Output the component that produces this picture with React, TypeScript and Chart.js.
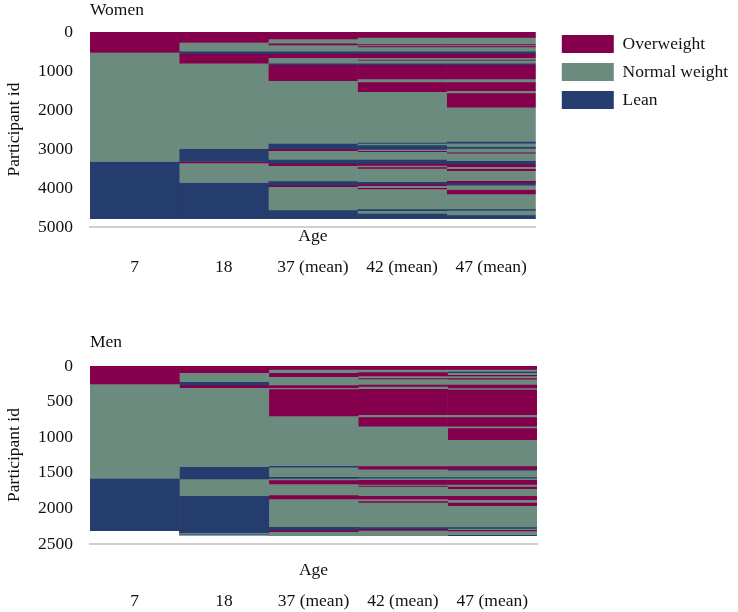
import React, { useEffect, useRef } from 'react';
import { Chart, registerables } from 'chart.js';

Chart.register(...registerables);

// ---------- data ----------
const ageLabels = ['7', '18', '37 (mean)', '42 (mean)', '47 (mean)'];
const classNames = ['Overweight', 'Normal weight', 'Lean'];
const classColors = ['#84004C', '#6B8B7E', '#253C6E'];
const O = 0, N = 1, L = 2;

// each column: runs of participants, [last participant id of run, class]
const women7: [number, number][] = [[525, O], [3320, N], [4790, L]];
const women18: [number, number][] = [[270, O], [495, N], [547, L], [803, O], [2990, N], [3320, L], [3360, O], [3860, N], [4790, L]];
const women37: [number, number][] = [[180, O], [290, N], [333, O], [495, N], [547, L], [658, O], [803, N], [838, L], [1250, O], [2855, N], [3000, L], [3043, O], [3265, N], [3368, L], [3427, O], [3821, N], [3923, L], [3966, O], [4564, N], [4790, L]];
const women42: [number, number][] = [[137, O], [308, N], [333, O], [359, N], [385, O], [495, N], [547, L], [658, O], [701, N], [726, O], [803, N], [838, L], [1205, O], [1282, N], [1530, O], [2829, N], [2855, L], [2897, N], [3009, L], [3043, N], [3068, O], [3265, N], [3368, L], [3419, O], [3462, N], [3496, O], [3838, N], [3897, L], [3940, O], [3991, N], [4026, O], [4538, N], [4581, L], [4650, N], [4790, L]];
const women47: [number, number][] = [[137, O], [308, N], [333, O], [359, N], [385, O], [495, N], [547, L], [658, O], [701, N], [726, O], [803, N], [838, L], [1205, O], [1282, N], [1505, O], [1565, N], [1925, O], [2805, N], [2850, L], [2935, N], [2985, L], [3080, N], [3110, O], [3300, N], [3385, L], [3455, O], [3505, N], [3555, O], [3810, N], [3870, O], [3930, L], [4040, N], [4150, O], [4540, N], [4575, L], [4690, N], [4790, L]];

const men7: [number, number][] = [[253, O], [1578, N], [2313, L]];
const men18: [number, number][] = [[94, O], [220, N], [267, L], [305, O], [1414, N], [1587, L], [1822, N], [2341, L], [2364, N], [2378, L]];
const men37: [number, number][] = [[47, O], [94, N], [150, O], [267, N], [304, O], [323, N], [700, O], [1400, N], [1423, L], [1555, N], [1578, L], [1601, N], [1657, O], [1811, N], [1867, O], [2256, N], [2303, L], [2327, O], [2383, N]];
const men42: [number, number][] = [[47, O], [84, N], [140, O], [169, N], [183, O], [258, N], [286, O], [319, N], [684, O], [716, N], [847, O], [1404, N], [1451, O], [1559, N], [1577, L], [1596, N], [1662, O], [1676, N], [1690, O], [1822, N], [1868, O], [1896, N], [1915, O], [2261, N], [2289, L], [2308, O], [2383, N]];
const men47: [number, number][] = [[47, O], [75, N], [94, L], [122, N], [140, O], [169, N], [187, O], [258, N], [309, O], [328, N], [684, O], [716, N], [847, O], [871, N], [1035, O], [1404, N], [1451, O], [1465, L], [1559, N], [1577, L], [1596, N], [1662, O], [1690, N], [1723, O], [1822, N], [1878, O], [1915, N], [1962, O], [2261, N], [2280, L], [2299, N], [2318, O], [2369, N], [2383, L]];

const womenColumns = [women7, women18, women37, women42, women47];
const menColumns = [men7, men18, men37, men42, men47];

const womenYTicks = [0, 1000, 2000, 3000, 4000, 5000];
const menYTicks = [0, 500, 1000, 1500, 2000, 2500];

// ---------- chart building ----------
const FONT_FAMILY = '"Liberation Serif", "Times New Roman", serif';
const FONT_SIZE = 17.5;
const TEXT_COLOR = '#111111';
const LEGEND_GAP = 16;

function buildDatasets(columns: [number, number][][]) {
  const maxSeg = Math.max(...columns.map((c) => c.length));
  const datasets: any[] = [];
  for (let k = 0; k < maxSeg; k++) {
    const data = columns.map((col) => {
      if (k >= col.length) return null;
      const start = k === 0 ? 0 : col[k - 1][0];
      return [start, col[k][0]];
    });
    const bg = columns.map((col) => (k < col.length ? classColors[col[k][1]] : 'rgba(0,0,0,0)'));
    datasets.push({
      label: 'run ' + k,
      data,
      backgroundColor: bg,
      borderWidth: 0,
      barPercentage: 1,
      categoryPercentage: 1,
      grouped: false,
      inflateAmount: 0.3,
    });
  }
  return datasets;
}

interface PanelSpec {
  title: string;
  columns: [number, number][][];
  yTicks: number[];
  height: number;
  titlePadTop: number;
  titlePadBottom: number;
  ageHeight: number;
  tickPad: number;
  xHeight: number;
  legend: boolean;
}

function legendRightPadding(): number {
  const c = document.createElement('canvas');
  const ctx = c.getContext('2d')!;
  ctx.font = `normal ${FONT_SIZE}px ${FONT_FAMILY}`;
  const maxW = Math.max(...classNames.map((t) => ctx.measureText(t).width));
  const legendW = 23 + 52 + FONT_SIZE / 2 + maxW;
  return Math.max(0, 738 - (537 + LEGEND_GAP) - legendW);
}

function makeConfig(p: PanelSpec): any {
  const font = { family: FONT_FAMILY, size: FONT_SIZE, weight: 'normal' as const };
  const scales: any = {
    x: {
      type: 'category',
      position: 'bottom',
      weight: 1,
      grid: { display: false, drawTicks: false },
      border: { display: false },
      ticks: { font, color: TEXT_COLOR, padding: p.tickPad, maxRotation: 0, autoSkip: false },
      afterFit: (s: any) => { s.height = p.xHeight; },
    },
    x2: {
      type: 'category',
      position: 'bottom',
      weight: 0,
      grid: { display: false, drawTicks: false },
      border: { display: true, color: '#cfcfcf', width: 2 },
      ticks: { display: false },
      title: { display: true, text: 'Age', font, color: TEXT_COLOR, padding: { top: 0, bottom: 0 } },
      afterFit: (s: any) => { s.height = p.ageHeight; },
    },
    y: {
      type: 'linear',
      reverse: true,
      min: p.yTicks[0],
      max: p.yTicks[p.yTicks.length - 1],
      grid: { display: false, drawTicks: false },
      border: { display: false },
      afterBuildTicks: (s: any) => { s.ticks = p.yTicks.map((v) => ({ value: v })); },
      ticks: { font, color: TEXT_COLOR, padding: 17, callback: (v: any) => String(v) },
      title: { display: true, text: 'Participant id', font, color: TEXT_COLOR, padding: { top: 4, bottom: 0 } },
      afterFit: (s: any) => { s.width = 90; },
    },
  };
  if (p.legend) {
    scales.gap = {
      type: 'linear',
      position: 'right',
      display: true,
      weight: 0,
      grid: { display: false, drawTicks: false },
      border: { display: false },
      ticks: { display: false },
      afterFit: (s: any) => { s.width = LEGEND_GAP; },
    };
  }
  return {
    type: 'bar',
    data: { labels: ageLabels, datasets: buildDatasets(p.columns) },
    options: {
      responsive: false,
      animation: false,
      devicePixelRatio: 1,
      events: [],
      layout: { padding: { left: 0, top: 0, bottom: 0, right: p.legend ? legendRightPadding() : 201 } },
      scales,
      plugins: {
        tooltip: { enabled: false },
        title: {
          display: true,
          text: p.title,
          align: 'start',
          fullSize: false,
          font,
          color: TEXT_COLOR,
          padding: { top: p.titlePadTop, bottom: p.titlePadBottom },
        },
        legend: {
          display: p.legend,
          position: 'right',
          align: 'start',
          maxWidth: 300,
          onClick: () => {},
          title: { display: true, text: '', padding: { top: 15, bottom: 0 }, font: { size: 10, lineHeight: 1 } },
          labels: {
            boxWidth: 52,
            boxHeight: 18,
            padding: 10,
            font,
            color: TEXT_COLOR,
            generateLabels: () =>
              classNames.map((t, i) => ({
                text: t,
                fillStyle: classColors[i],
                strokeStyle: classColors[i],
                lineWidth: 0,
                hidden: false,
                fontColor: TEXT_COLOR,
                datasetIndex: i,
              })),
          },
        },
      },
    },
  };
}

function Panel({ spec, top }: { spec: PanelSpec; top: number }) {
  const ref = useRef<HTMLCanvasElement>(null);
  useEffect(() => {
    if (!ref.current) return;
    const chart = new Chart(ref.current, makeConfig(spec));
    return () => chart.destroy();
  }, []);
  return (
    <canvas
      ref={ref}
      width={738}
      height={spec.height}
      style={{ position: 'absolute', left: 0, top, width: 738, height: spec.height }}
    />
  );
}

const womenSpec: PanelSpec = {
  title: 'Women',
  columns: womenColumns,
  yTicks: womenYTicks,
  height: 300,
  titlePadTop: 0,
  titlePadBottom: 11,
  ageHeight: 20,
  tickPad: 9.5,
  xHeight: 53,
  legend: true,
};

const menSpec: PanelSpec = {
  title: 'Men',
  columns: menColumns,
  yTicks: menYTicks,
  height: 300,
  titlePadTop: 19.5,
  titlePadBottom: 13.5,
  ageHeight: 36.5,
  tickPad: 10,
  xHeight: 31.5,
  legend: false,
};

export default function App() {
  return (
    <div style={{ position: 'fixed', left: 0, top: 0, width: 738, height: 612, background: '#ffffff', overflow: 'hidden' }}>
      <Panel spec={womenSpec} top={0} />
      <Panel spec={menSpec} top={312} />
    </div>
  );
}
